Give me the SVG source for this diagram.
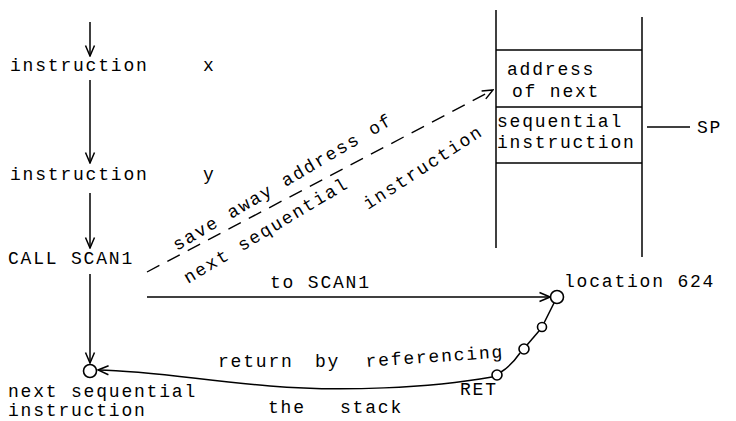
<svg xmlns="http://www.w3.org/2000/svg" width="736" height="421" viewBox="0 0 736 421">
<defs>
<style>
text{font-family:"Liberation Mono","DejaVu Sans Mono",monospace;font-size:18px;letter-spacing:1.8px;fill:#000}
.ln{fill:none;stroke:#000;stroke-width:1.5}
.dash{fill:none;stroke:#000;stroke-width:1.4;stroke-dasharray:14 9}
.node{fill:#fff;stroke:#000;stroke-width:1.6}
</style>
<marker id="ah" viewBox="0 0 12 12" refX="11" refY="6" markerWidth="12" markerHeight="12" orient="auto" markerUnits="userSpaceOnUse">
<path d="M0.5,1.5 L11,6 L0.5,10.5" fill="none" stroke="#000" stroke-width="1.5" stroke-dasharray="none"/>
</marker>
</defs>
<rect width="736" height="421" fill="#fff"/>

<g id="connectors">
<line class="ln" x1="90" y1="22" x2="90" y2="56" marker-end="url(#ah)"/>
<line class="ln" x1="90" y1="80" x2="90" y2="163" marker-end="url(#ah)"/>
<line class="ln" x1="90" y1="193" x2="90" y2="248" marker-end="url(#ah)"/>
<line class="ln" x1="90" y1="274" x2="90" y2="363" marker-end="url(#ah)"/>
<line class="dash" x1="147" y1="272" x2="493" y2="90" marker-end="url(#ah)"/>
<line class="ln" x1="147" y1="297" x2="550" y2="297" marker-end="url(#ah)"/>
<path class="ln" d="M554,303 L544,323"/>
<path class="ln" d="M539,331 L527,345"/>
<path class="ln" d="M520,353 Q511,366 501,372"/>
<path class="ln" d="M492,377 C430,388 340,392 270,386 C200,380 150,371 98,370" marker-end="url(#ah)"/>
<line class="ln" x1="647" y1="127" x2="690" y2="127"/>
</g>

<g id="instr-x"><text x="10" y="71">instruction</text><text x="203" y="71">x</text></g>
<g id="instr-y"><text x="10" y="180">instruction</text><text x="203" y="180">y</text></g>
<g id="call"><text x="8" y="264">CALL SCAN1</text></g>
<g id="next-seq">
<circle class="node" cx="90" cy="371" r="6.5"/>
<text x="8" y="397">next sequential</text>
<text x="8" y="416">instruction</text>
</g>

<g id="stack">
<line class="ln" x1="496" y1="10" x2="496" y2="248"/>
<line class="ln" x1="642" y1="17" x2="642" y2="257"/>
<line class="ln" x1="496" y1="50" x2="642" y2="50"/>
<line class="ln" x1="496" y1="107" x2="642" y2="107"/>
<line class="ln" x1="496" y1="163" x2="642" y2="163"/>
<text x="507" y="75">address</text>
<text x="512" y="97">of next</text>
<text x="497" y="127">sequential</text>
<text x="497" y="148">instruction</text>
</g>
<g id="sp"><text x="697" y="133">SP</text></g>

<g id="save-label">
<text transform="translate(177,251) rotate(-30.5)">save away address of</text>
<text transform="translate(188,284) rotate(-31)">next sequential</text>
<text transform="translate(368,210) rotate(-33)">instruction</text>
</g>

<g id="to-scan"><text x="270" y="288">to SCAN1</text></g>

<g id="loc624">
<circle class="node" cx="557" cy="297" r="6.5"/>
<text x="564" y="287">location 624</text>
</g>
<g id="mid1"><circle class="node" cx="542" cy="327" r="4.5"/></g>
<g id="mid2"><circle class="node" cx="524" cy="349" r="5"/></g>
<g id="ret">
<circle class="node" cx="497" cy="375" r="5"/>
<text x="460" y="395">RET</text>
</g>

<g id="return-label">
<text x="218" y="367">return</text>
<text x="315" y="367">by</text>
<text transform="translate(366,367) rotate(-4)">referencing</text>
<text x="268" y="413">the</text>
<text x="340" y="413">stack</text>
</g>
</svg>
